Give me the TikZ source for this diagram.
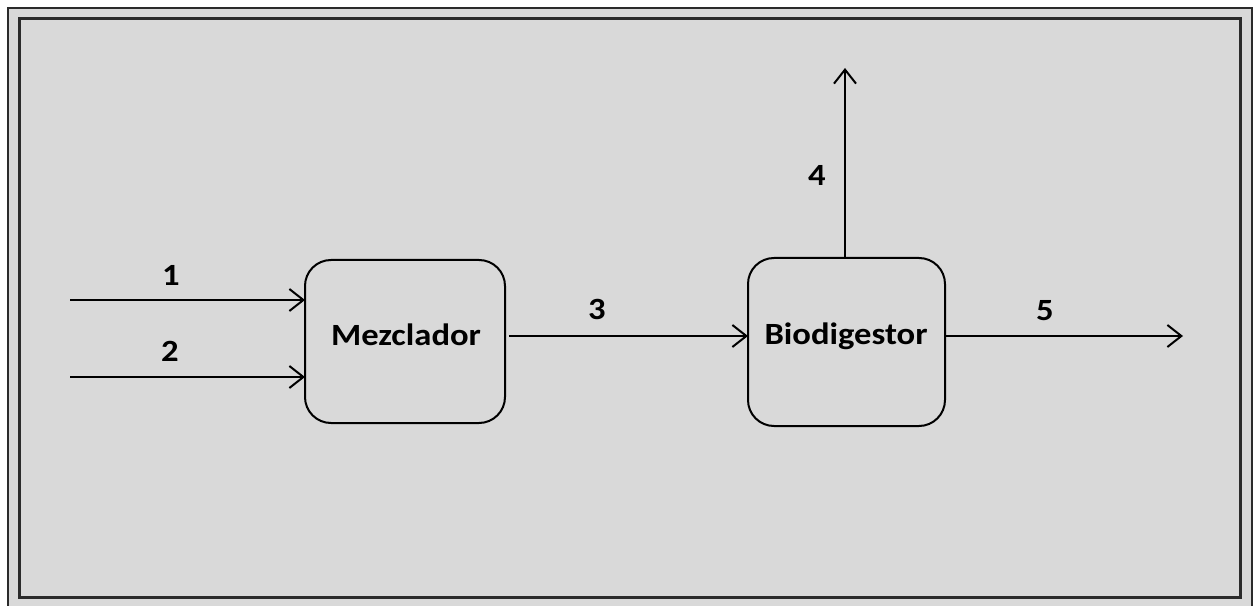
\documentclass[tikz,border=0pt]{standalone}
\usepackage{fontspec}
\setmainfont{Carlito}[FakeStretch=1.12]
\usetikzlibrary{arrows.meta}
\definecolor{bg}{HTML}{D9D9D9}
\definecolor{frame}{HTML}{2B2B2B}
\tikzset{
  proc/.style={draw=black, line width=2bp, rounded corners=26bp, fill=bg},
  flow/.style={draw=black, line width=2bp, -{Straight Barb[length=14bp, width=22bp, line width=2bp]}},
  lbl/.style={font=\fontsize{31}{31}\selectfont\bfseries, text=black, inner sep=0pt},
}
\begin{document}
\begin{tikzpicture}[x=1bp, y=-1bp]
\useasboundingbox (0,0) rectangle (1256,606);
\fill[white] (0,0) rectangle (1256,606);
\draw[frame, line width=2.5bp, fill=bg] (8,8) rectangle (1252,612);
\draw[frame, line width=3bp] (19,19) rectangle (1240,597);
% boxes
\draw[proc] (305,260) rectangle (505,423);
\node[lbl] (mez) at (406,335) {Mezclador};
\draw[proc] (748,258) rectangle (945,426);
\node[lbl] (bio) at (846,336) {Biodigestor};
\coordinate (mezW1) at (305,300);
\coordinate (mezW2) at (305,377);
\coordinate (mezE) at (509,336);
\coordinate (bioW) at (748,336);
\coordinate (bioN) at (845,258);
\coordinate (bioE) at (945,336);
\coordinate (in1) at (70,300);
\coordinate (in2) at (70,377);
\coordinate (out4) at (845,68);
\coordinate (out5) at (1183,336);
\draw[flow] (in1) -- (mezW1);
\draw[flow] (in2) -- (mezW2);
\draw[flow] (mezE) -- (bioW);
\draw[flow] (bioN) -- (out4);
\draw[flow] (bioE) -- (out5);
\node[lbl] (l1) at (171,275) {1};
\node[lbl] (l2) at (170,351) {2};
\node[lbl] (l3) at (597,309) {3};
\node[lbl] (l4) at (817,175) {4};
\node[lbl] (l5) at (1045,311) {5};
\end{tikzpicture}
\end{document}
